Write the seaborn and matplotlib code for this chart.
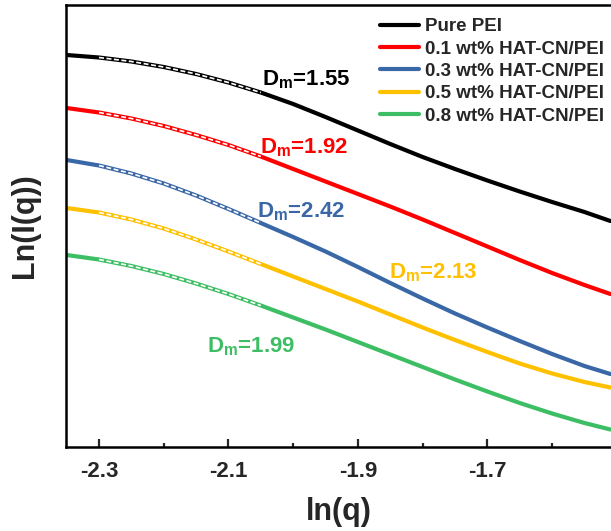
import numpy as np
import pandas as pd
import matplotlib
matplotlib.use("Agg")
import matplotlib.pyplot as plt
import seaborn as sns

# ---- data (arbitrary Ln(I) units) ----
lnq = [-2.35, -2.30, -2.25, -2.20, -2.15, -2.10, -2.05, -2.00, -1.95,
       -1.90, -1.85, -1.80, -1.75, -1.70, -1.65, -1.60, -1.55, -1.51]
pure_pei = [3.917, 3.892, 3.852, 3.797, 3.727, 3.642, 3.542, 3.427, 3.297,
            3.162, 3.027, 2.897, 2.777, 2.662, 2.552, 2.447, 2.347, 2.257]
hat_01 = [3.387, 3.342, 3.282, 3.207, 3.117, 3.017, 2.902, 2.777, 2.652,
          2.527, 2.402, 2.272, 2.137, 2.002, 1.867, 1.737, 1.617, 1.527]
hat_03 = [2.867, 2.812, 2.732, 2.632, 2.512, 2.377, 2.237, 2.097, 1.952,
          1.797, 1.637, 1.482, 1.332, 1.192, 1.057, 0.927, 0.807, 0.727]
hat_05 = [2.387, 2.342, 2.272, 2.182, 2.072, 1.952, 1.827, 1.702, 1.577,
          1.452, 1.322, 1.192, 1.067, 0.947, 0.832, 0.732, 0.647, 0.592]
hat_08 = [1.917, 1.872, 1.807, 1.727, 1.632, 1.527, 1.412, 1.292, 1.172,
          1.047, 0.922, 0.797, 0.672, 0.552, 0.437, 0.332, 0.237, 0.172]

series_names = ["Pure PEI", "0.1 wt% HAT-CN/PEI", "0.3 wt% HAT-CN/PEI",
                "0.5 wt% HAT-CN/PEI", "0.8 wt% HAT-CN/PEI"]
series_values = [pure_pei, hat_01, hat_03, hat_05, hat_08]
colors = ["#000000", "#FF0000", "#3A68A6", "#FFC000", "#3DBE64"]

# fractal-dimension fit range and labels
fit_range = (-2.30, -2.05)
dm_labels = ["1.55", "1.92", "2.42", "2.13", "1.99"]
dm_pos_x = [-2.0485, -2.0516, -2.0563, -1.8522, -2.1335]
dm_pos_y = [3.617, 2.937, 2.297, 1.687, 0.947]

xticks = [-2.3, -2.1, -1.9, -1.7]
xlim = (-2.351, -1.509)
ylim = (0.0, 4.417)

# ---- build tables ----
rows = []
for name, vals in zip(series_names, series_values):
    for x, y in zip(lnq, vals):
        rows.append({"lnq": x, "lnI": y, "sample": name})
df = pd.DataFrame(rows)
fit_df = df[(df["lnq"] >= fit_range[0] - 1e-9) & (df["lnq"] <= fit_range[1] + 1e-9)]

# ---- style ----
sns.set_style("ticks")
plt.rcParams["font.family"] = ["Liberation Sans", "DejaVu Sans"]
plt.rcParams["font.weight"] = "bold"
plt.rcParams["mathtext.fontset"] = "custom"
plt.rcParams["mathtext.bf"] = "Liberation Sans:bold"
plt.rcParams["mathtext.rm"] = "Liberation Sans:bold"
plt.rcParams["lines.solid_joinstyle"] = "round"

fig = plt.figure(figsize=(6.11, 5.31), dpi=100)
ax = fig.add_axes([66 / 611, 1 - 446.7 / 531, 1 - 66 / 611, (446.7 - 5) / 531])

sns.lineplot(data=df, x="lnq", y="lnI", hue="sample", hue_order=series_names,
             palette=colors, linewidth=3.0, estimator=None, sort=False, ax=ax)
sns.lineplot(data=fit_df, x="lnq", y="lnI", units="sample", color="white",
             linewidth=1.2, dashes=False, estimator=None, sort=False,
             legend=False, ax=ax, linestyle=(0, (3, 1.5)))

for lab, xx, yy, c in zip(dm_labels, dm_pos_x, dm_pos_y, colors):
    ax.text(xx, yy, r"D$_{\mathbf{m}}$=" + lab, color=c, fontsize=16,
            fontweight="bold", ha="left", va="baseline")

ax.set_xlim(*xlim)
ax.set_ylim(*ylim)
ax.set_xticks(xticks)
ax.set_xticklabels([f"{t:.1f}" for t in xticks])
ax.xaxis.set_minor_locator(matplotlib.ticker.MultipleLocator(0.1))
ax.set_yticks([])
ax.tick_params(axis="x", which="major", direction="in", length=6, width=1.6,
               labelsize=16, pad=10)
ax.tick_params(axis="x", which="minor", direction="in", length=3, width=1.6)
for lbl in ax.get_xticklabels():
    lbl.set_fontweight("bold")

for side in ["left", "bottom", "top"]:
    ax.spines[side].set_linewidth(1.8)
    ax.spines[side].set_color("black")
ax.spines["right"].set_visible(False)

ax.set_xlabel("ln(q)", fontsize=22, fontweight="bold", labelpad=11)
ax.set_ylabel("Ln(I(q))", fontsize=22, fontweight="bold", labelpad=19)

handles, labels = ax.get_legend_handles_labels()
leg = ax.legend(handles, labels, loc="upper left",
                bbox_to_anchor=(380 / 611, 1 - 18 / 531),
                bbox_transform=fig.transFigure, frameon=False,
                fontsize=13.5, handlelength=2.1, handletextpad=0.3,
                labelspacing=0.28, borderpad=0, borderaxespad=0)
for t in leg.get_texts():
    t.set_fontweight("bold")
for h in leg.get_lines():
    h.set_linewidth(3.0)

fig.savefig("out.png", dpi=100)
